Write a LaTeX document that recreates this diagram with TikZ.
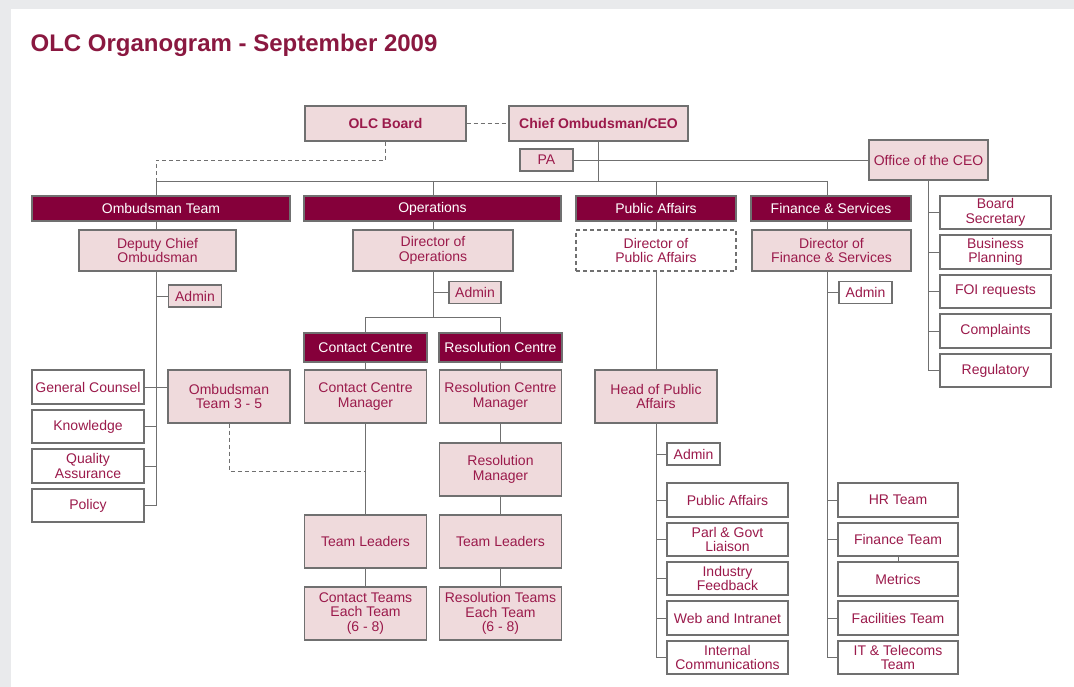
\documentclass[tikz,border=0pt]{standalone}
\usepackage{fontspec}
\setmainfont{Liberation Sans}
\usepackage{xcolor}
\usepackage{tikz}
\usetikzlibrary{backgrounds,calc}

\definecolor{olctitle}{HTML}{8A1840}
\definecolor{olctext}{HTML}{9B1A4B}
\definecolor{olcbar}{HTML}{85003A}
\definecolor{olcpink}{HTML}{EFDADC}
\definecolor{olcline}{HTML}{707070}
\definecolor{olcframe}{HTML}{E9EAEC}

\begin{document}
\begin{tikzpicture}[x=1pt,y=-1pt,line width=1.3pt]
    \tikzstyle{box}=[draw=olcline,fill=olcpink,text=olctext,align=center,inner sep=0pt,
        font=\fontsize{14}{14.5}\selectfont]
    \tikzstyle{bbox}=[box,font=\fontsize{14}{14.5}\selectfont\bfseries]
    \tikzstyle{wbox}=[box,fill=white]
    \tikzstyle{bar}=[box,fill=olcbar,text=white,minimum height=25]
    \tikzstyle{dirbox}=[box,minimum width=160,minimum height=41]
    \tikzstyle{unit}=[box,minimum width=122,minimum height=53]
    \tikzstyle{adm}=[box,minimum width=53,minimum height=22]
    \tikzstyle{item}=[wbox,minimum height=34]
    \tikzstyle{link}=[draw=olcline]
    \tikzstyle{dotlink}=[link,dash pattern=on 4pt off 3pt]

    \useasboundingbox (0,0) rectangle (1074,687);
    \node[anchor=base west,text=olctitle,inner sep=0pt,
        font=\fontsize{24}{28}\selectfont\bfseries] (title) at (30,52) {OLC Organogram - September 2009};

    \node[bbox,minimum width=161,minimum height=35] (board) at (385.5,123.5) {OLC Board};
    \node[bbox,minimum width=179,minimum height=35] (ceo) at (598.5,123.5) {Chief Ombudsman/CEO};
    \node[box,minimum width=53,minimum height=22] (pa) at (546.5,160) {PA};
    \node[box,minimum width=119,minimum height=40] (office) at (928.5,160) {Office of the CEO};

    \node[bar,minimum width=258] (ombt) at (161,208.5) {Ombudsman Team};
    \node[bar,minimum width=257] (ops) at (432.5,208.5) {Operations};
    \node[bar,minimum width=160] (pub) at (656,208.5) {Public Affairs};
    \node[bar,minimum width=160] (fin) at (831,208.5) {Finance \& Services};

    \node[dirbox,minimum width=157] (dep) at (157.5,250.5) {Deputy Chief\\Ombudsman};
    \node[dirbox] (dop) at (433,250.5) {Director of\\Operations};
    \node[dirbox,fill=white,dash pattern=on 4pt off 3pt] (dpa) at (656,250.5) {Director of\\Public Affairs};
    \node[dirbox,minimum width=159] (dfs) at (831.5,250.5) {Director of\\Finance \& Services};

    \node[adm] (oadm) at (195,296) {Admin};
    \node[adm,minimum width=52] (opadm) at (475,292.5) {Admin};
    \node[adm,fill=white] (fadm) at (865.5,292.5) {Admin};

    \node[item,minimum width=112] (gc) at (88,387) {General Counsel};
    \node[item,minimum width=112,minimum height=33] (kn) at (88,426.5) {Knowledge};
    \node[item,minimum width=112] (qa) at (88,466) {Quality\\Assurance};
    \node[item,minimum width=112,minimum height=33] (pol) at (88,505.5) {Policy};
    \node[unit] (ot) at (229,396.5) {Ombudsman\\Team 3 - 5};

    \node[bar,minimum width=123,minimum height=29] (cc) at (365.5,347.5) {Contact Centre};
    \node[bar,minimum width=123,minimum height=29] (rc) at (500.5,347.5) {Resolution Centre};
    \node[unit] (ccm) at (365.5,396.5) {Contact Centre\\Manager};
    \node[unit] (rcm) at (500.5,396.5) {Resolution Centre\\Manager};
    \node[unit] (rm) at (500.5,469.5) {Resolution\\Manager};
    \node[unit] (tla) at (365.5,541.5) {Team Leaders};
    \node[unit] (tlb) at (500.5,541.5) {Team Leaders};
    \node[unit] (ct) at (365.5,613.5) {Contact Teams\\Each Team\\(6 - 8)};
    \node[unit] (rt) at (500.5,613.5) {Resolution Teams\\Each Team\\(6 - 8)};

    \node[unit] (hpa) at (656,396.5) {Head of Public\\Affairs};
    \node[adm,fill=white] (hadm) at (693.5,454) {Admin};
    \node[item,minimum width=121] (pateam) at (727.5,500) {Public Affairs};
    \node[item,minimum width=121,minimum height=33] (parl) at (727.5,539.5) {Parl \& Govt\\Liaison};
    \node[item,minimum width=121,minimum height=33] (ind) at (727.5,578.5) {Industry\\Feedback};
    \node[item,minimum width=121] (web) at (727.5,618) {Web and Intranet};
    \node[item,minimum width=121,minimum height=33] (ic) at (727.5,657.5) {Internal\\Communications};

    \node[item,minimum width=120] (hr) at (898,500) {HR Team};
    \node[item,minimum width=120,minimum height=33] (ft) at (898,539.5) {Finance Team};
    \node[item,minimum width=120] (met) at (898,579) {Metrics};
    \node[item,minimum width=120] (fac) at (898,618) {Facilities Team};
    \node[item,minimum width=120,minimum height=33] (it) at (898,657.5) {IT \& Telecoms\\Team};

    \node[item,minimum width=111,minimum height=33] (bs) at (995.5,212.5) {Board\\Secretary};
    \node[item,minimum width=111] (bp) at (995.5,252) {Business\\Planning};
    \node[item,minimum width=111,minimum height=33] (foi) at (995.5,291.5) {FOI requests};
    \node[item,minimum width=111] (com) at (995.5,331) {Complaints};
    \node[item,minimum width=111,minimum height=33] (reg) at (995.5,370.5) {Regulatory};

    \coordinate (busL) at (156,181);
    \coordinate (busR) at (827,181);

    \begin{scope}[on background layer]
        \fill[olcframe] (0,0) rectangle (1074,687);
        \fill[white] (11,9) rectangle (1074,687);

        \path[link] (busL) edge (busR)
                    (board.east) edge[dotlink] (ceo.west)
                    (pa.east) edge (office.west)
                    (ceo.south) edge (ceo.south |- busL);
        \draw[dotlink] (board.south) |- ([yshift=21pt]busL) -- (busL);

        \draw[link] (busL) -- (busL |- pol.east);
        \path[link] (gc.east) edge (gc.east -| ot.west)
                    (kn.east) edge (kn.east -| busL)
                    (qa.east) edge (qa.east -| busL)
                    (pol.east) edge (pol.east -| busL)
                    (oadm.west) edge (oadm.west -| busL);

        \draw[link] (dop.north |- busL) -- ([yshift=-46pt]dop.south) coordinate (opsplit);
        \draw[link] (cc.north) |- (opsplit) -| (rc.north);
        \path[link] (opadm.west) edge (opadm.west -| dop.south)
                    (cc.south) edge (ct.north)
                    (rc.south) edge (rt.north);
        \draw[dotlink] (ot.south) |- ($(ccm.south)!0.52!(tla.north)$);

        \draw[link] (pub.north |- busL) -- (hpa.north);
        \draw[link] (hpa.south) -- (hpa.south |- ic.west);
        \path[link] (hadm.west) edge (hadm.west -| hpa.south)
                    (pateam.west) edge (pateam.west -| hpa.south)
                    (parl.west) edge (parl.west -| hpa.south)
                    (ind.west) edge (ind.west -| hpa.south)
                    (web.west) edge (web.west -| hpa.south)
                    (ic.west) edge (ic.west -| hpa.south);

        \draw[link] (busR) -- (busR |- it.west);
        \path[link] (fadm.west) edge (fadm.west -| busR)
                    (hr.west) edge (hr.west -| busR)
                    (ft.west) edge (ft.west -| busR)
                    (fac.west) edge (fac.west -| busR)
                    (it.west) edge (it.west -| busR)
                    (ft.south) edge (met.north);

        \draw[link] (office.south) -- (office.south |- reg.west);
        \path[link] (bs.west) edge (bs.west -| office.south)
                    (bp.west) edge (bp.west -| office.south)
                    (foi.west) edge (foi.west -| office.south)
                    (com.west) edge (com.west -| office.south)
                    (reg.west) edge (reg.west -| office.south);
    \end{scope}
\end{tikzpicture}
\end{document}
